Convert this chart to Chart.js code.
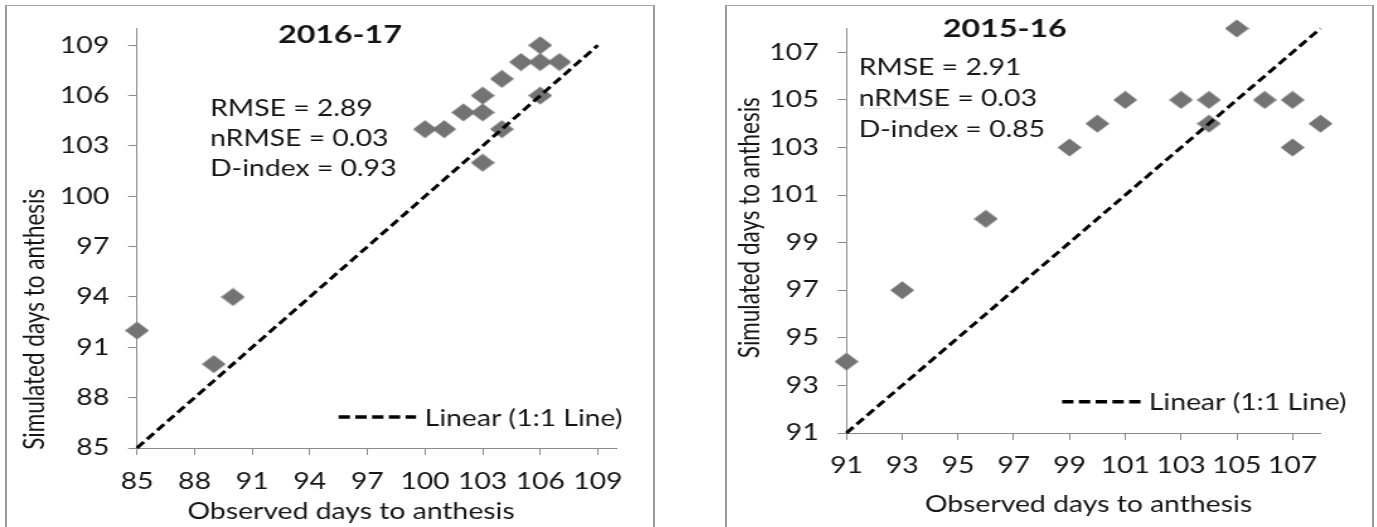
<!DOCTYPE html>
<html><head><meta charset="utf-8">
<script src="https://cdn.jsdelivr.net/npm/chart.js@4.4.0/dist/chart.umd.min.js"></script>
<style>
html,body{margin:0;padding:0;background:#fff;}
body{width:1377px;height:527px;overflow:hidden;position:relative;}
.panel{position:absolute;top:5px;height:540px;border-left:2px solid #9a9a9a;border-right:2px solid #9a9a9a;border-top:1px solid #a8a8a8;box-sizing:content-box;}
#p1{left:5px;width:646px;}
#p2{left:725px;width:645px;}
.wrap{position:absolute;top:0;transform:scaleX(1.26);transform-origin:0 0;}
#w1{left:0px;}
#w2{left:700px;}
canvas{display:block;}
</style></head><body>
<div class="panel" id="p1"></div>
<div class="panel" id="p2"></div>
<div class="wrap" id="w1"><canvas id="c1" width="535" height="527"></canvas></div>
<div class="wrap" id="w2"><canvas id="c2" width="535" height="527"></canvas></div>
<script>
// ---------- data: 2016-17 ----------
const observed1617 = [85, 89, 90, 100, 101, 102, 103, 103, 103, 104, 104, 105, 106, 106, 106, 107];
const simulated1617 = [92, 90, 94, 104, 104, 105, 105, 106, 102, 104, 107, 108, 109, 108, 106, 108];
const ticks1617 = [85, 88, 91, 94, 97, 100, 103, 106, 109];
const range1617 = [85, 110];
const oneToOne1617 = [85, 109];
const stats1617 = ['RMSE = 2.89', 'nRMSE = 0.03', 'D-index = 0.93'];
const title1617 = '2016-17';

// ---------- data: 2015-16 ----------
const observed1516 = [91, 93, 96, 99, 100, 101, 103, 104, 104, 105, 106, 107, 107, 108];
const simulated1516 = [94, 97, 100, 103, 104, 105, 105, 105, 104, 108, 105, 105, 103, 104];
const ticks1516 = [91, 93, 95, 97, 99, 101, 103, 105, 107];
const range1516 = [91, 108];
const oneToOne1516 = [91, 108];
const stats1516 = ['RMSE = 2.91', 'nRMSE = 0.03', 'D-index = 0.85'];
const title1516 = '2015-16';

const xTitle = 'Observed days to anthesis';
const yTitle = 'Simulated days to anthesis';
const lineLabel = 'Linear (1:1 Line)';

// ---------- style ----------
const FONT = 'Lato';
const FS = 22.5;
const TEXT = '#151515';
const AXIS = '#8a8a8a';
const MARKER = '#737373';

// diamond marker
const diamond = document.createElement('canvas');
diamond.width = 19; diamond.height = 19;
(function () {
  const g = diamond.getContext('2d');
  g.fillStyle = MARKER;
  g.beginPath();
  g.moveTo(9.5, 0.5); g.lineTo(19, 9.5); g.lineTo(9.5, 18.5); g.lineTo(0, 9.5);
  g.closePath(); g.fill();
})();

const annotPlugin = {
  id: 'annot',
  afterDraw(chart, args, o) {
    const ctx = chart.ctx;
    ctx.save();
    ctx.fillStyle = TEXT;
    ctx.textBaseline = 'alphabetic';
    ctx.font = `bold ${o.titleSize}px ${FONT}`;
    ctx.textAlign = 'center';
    ctx.fillText(o.title, o.titleX, o.titleY);
    ctx.font = `${FS}px ${FONT}`;
    ctx.textAlign = 'left';
    o.stats.forEach((s, i) => ctx.fillText(s, o.statsX, o.statsY + i * o.statsDy));
    if (o.underline) {
      const w = ctx.measureText('nRMSE').width;
      ctx.save();
      ctx.strokeStyle = '#c8c8c8'; ctx.lineWidth = 1; ctx.setLineDash([1, 1]);
      ctx.beginPath(); ctx.moveTo(o.statsX, o.statsY + o.statsDy + 2.5); ctx.lineTo(o.statsX + w, o.statsY + o.statsDy + 2.5); ctx.stroke();
      ctx.restore();
    }
    const ds = chart.data.datasets[1];
    ctx.save();
    ctx.strokeStyle = ds.borderColor; ctx.lineWidth = 3.5; ctx.setLineDash([9, 4.3]);
    ctx.beginPath(); ctx.moveTo(o.legX0, o.legY); ctx.lineTo(o.legX1, o.legY); ctx.stroke();
    ctx.restore();
    ctx.fillText(ds.label, o.legTX, o.legTY);
    ctx.textAlign = 'center';
    ctx.fillText(xTitle, o.xTitleX, o.xTitleY);
    ctx.save();
    ctx.translate(o.yTitleX, o.yTitleY);
    ctx.rotate(-Math.PI / 2);
    ctx.textBaseline = 'middle';
    ctx.fillText(yTitle, 0, 0);
    ctx.restore();
    ctx.restore();
  }
};

function makeChart(id, c) {
  const pts = c.obs.map((x, i) => ({ x: x, y: c.sim[i] }));
  const line = c.line.map(v => ({ x: v, y: v }));
  const scaleBase = (ticks, range) => ({
    type: 'linear',
    min: range[0], max: range[1],
    afterBuildTicks: a => { a.ticks = ticks.map(v => ({ value: v })); },
    grid: { drawOnChartArea: false, drawTicks: true, tickLength: 7, color: AXIS, lineWidth: 1 },
    border: { display: true, color: AXIS, width: 1 },
    ticks: { font: { family: FONT, size: FS }, color: TEXT, autoSkip: false, maxRotation: 0 }
  });
  const xs = scaleBase(c.ticks, c.range);
  xs.ticks.padding = c.xPad;
  xs.afterFit = s => { s.height = c.xAxisH; };
  const ys = scaleBase(c.ticks, c.range);
  ys.ticks.padding = 15;
  ys.afterFit = s => { s.width = c.yAxisW; };
  return new Chart(document.getElementById(id), {
    type: 'scatter',
    data: {
      datasets: [
        { label: 'Simulated vs observed', data: pts, pointStyle: diamond, pointRadius: 9,
          backgroundColor: MARKER, borderColor: MARKER, borderWidth: 0, order: 1, clip: false },
        { label: lineLabel, type: 'line', data: line, showLine: true, borderColor: '#000000',
          borderWidth: 3, borderDash: [8, 4], pointRadius: 0, fill: false, order: 0, clip: false }
      ]
    },
    options: {
      responsive: false, animation: false, devicePixelRatio: 1,
      layout: { padding: { top: c.padTop, right: c.padRight, left: 0, bottom: 0 } },
      plugins: { legend: { display: false }, tooltip: { enabled: false }, annot: c.annot },
      scales: { x: xs, y: ys }
    },
    plugins: [annotPlugin]
  });
}

makeChart('c1', {
  obs: observed1617, sim: simulated1617, ticks: ticks1617, range: range1617, line: oneToOne1617,
  yAxisW: 108.7, xAxisH: 79, padTop: 20, padRight: 45.3, xPad: 13,
  annot: {
    title: title1617, titleSize: 25.5, titleX: 269.8, titleY: 43,
    stats: stats1617, statsX: 166.7, statsY: 116.3, statsDy: 29.6, underline: false,
    legX0: 268.7, legX1: 330.2, legY: 417, legTX: 337.1, legTY: 425.5,
    xTitleX: 278.6, xTitleY: 519, yTitleX: 28.1, yTitleY: 319.3
  }
});

makeChart('c2', {
  obs: observed1516, sim: simulated1516, ticks: ticks1516, range: range1516, line: oneToOne1516,
  yAxisW: 116.2, xAxisH: 94, padTop: 19.4, padRight: 42.6, xPad: 12,
  annot: {
    title: title1516, titleSize: 25.5, titleX: 241.9, titleY: 37,
    stats: stats1516, statsX: 125.9, statsY: 74.6, statsDy: 31.2, underline: true,
    legX0: 287.4, legX1: 350.2, legY: 401.7, legTX: 356.2, legTY: 410,
    xTitleX: 308.3, xTitleY: 511.5, yTitleX: 39.3, yTitleY: 227.7
  }
});
</script>
</body></html>
